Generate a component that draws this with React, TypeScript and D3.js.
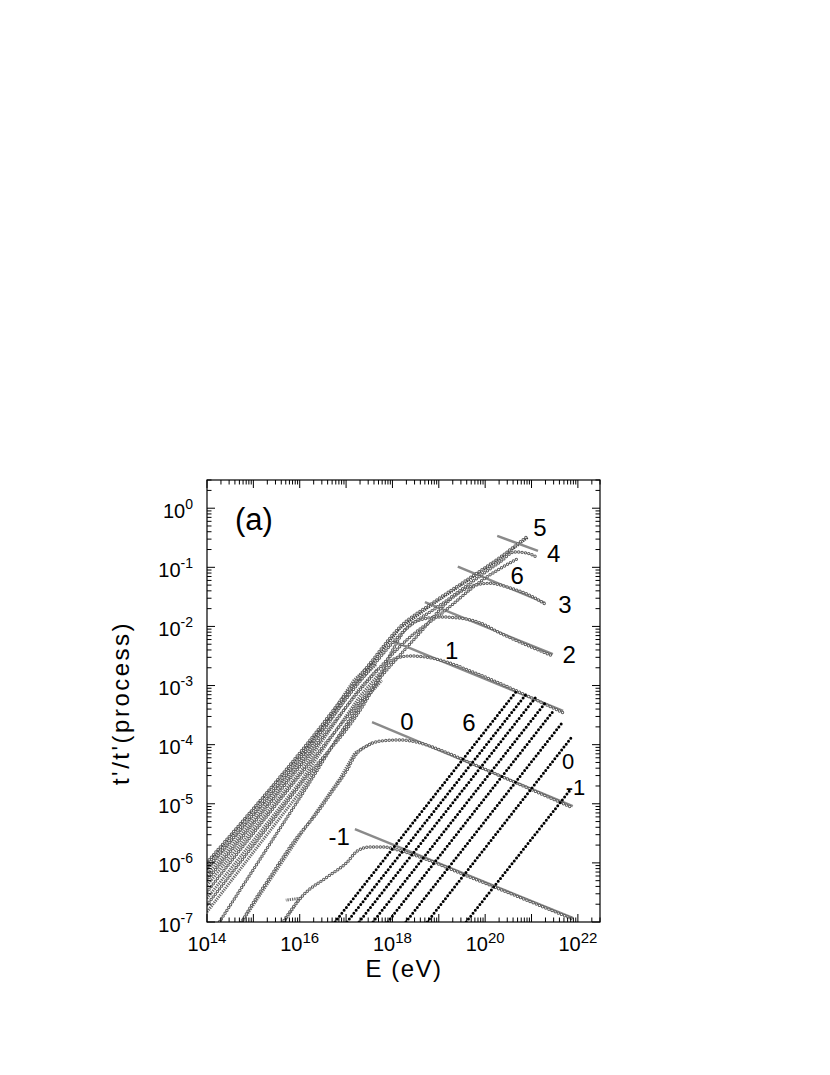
import React from 'react';
import * as d3 from 'd3';

type P = [number, number];

// every point is [log10 E (eV), log10 t'/t'(process)]
// order of curves: -1, 0, 1, 2, 3, 4, 5, 6
const circleCurves: P[][] = [
  [[15.47, -7.22], [15.64, -7.0], [16.07, -6.55], [16.59, -6.24], [17.02, -5.99], [17.24, -5.8], [17.52, -5.73], [17.8, -5.73], [18.06, -5.77], [18.59, -5.9], [19.67, -6.24], [21.89, -6.95]],
  [[14.6, -7.22], [14.75, -7.0], [15.36, -6.24], [16.01, -5.5], [16.29, -5.24], [16.72, -4.77], [17.02, -4.43], [17.19, -4.19], [17.45, -4.02], [17.73, -3.94], [18.16, -3.92], [18.59, -3.97], [19.03, -4.09], [19.89, -4.38], [21.89, -5.07]],
  [[14.11, -7.19], [16.01, -4.89], [17.3, -3.33], [17.67, -2.96], [17.88, -2.65], [18.1, -2.53], [18.38, -2.5], [18.81, -2.53], [19.24, -2.62], [19.67, -2.75], [21.68, -3.46]],
  [[14.0, -6.71], [16.01, -4.68], [17.56, -3.08], [17.95, -2.48], [18.27, -2.06], [18.59, -1.89], [19.03, -1.84], [19.46, -1.86], [19.89, -1.94], [20.32, -2.11], [21.46, -2.5]],
  [[14.0, -6.49], [16.01, -4.51], [17.62, -2.97], [18.59, -2.11], [19.24, -1.55], [19.67, -1.33], [20.1, -1.27], [20.54, -1.35], [21.03, -1.5], [21.29, -1.62]],
  [[14.0, -6.09], [16.01, -4.23], [17.52, -2.72], [18.27, -2.06], [19.03, -1.64], [19.78, -1.21], [20.32, -0.91], [20.64, -0.74], [20.9, -0.76], [21.12, -0.83]],
  [[14.0, -5.99], [16.01, -4.13], [17.52, -2.62], [18.16, -2.01], [18.87, -1.6], [19.61, -1.21], [20.32, -0.83], [20.92, -0.47]],
  [[14.0, -6.29], [16.01, -4.36], [17.56, -2.84], [18.38, -2.18], [19.09, -1.76], [19.95, -1.21], [20.73, -0.84]],
];

// triangle-marker curves; most end in a short bent "wing"
const triangleCurves: P[][] = [
  [[15.47, -7.22], [16.0, -6.6], [15.7, -6.63]],
  [[14.6, -7.22], [14.75, -7.0], [16.01, -5.53], [16.87, -4.57], [17.19, -4.14], [17.56, -3.97]],
  [[14.0, -6.83], [16.01, -4.8], [17.34, -3.3], [17.77, -2.91]],
  [[14.0, -6.6], [16.01, -4.63], [17.3, -3.18], [17.73, -2.79]],
  [[14.0, -6.38], [16.01, -4.46], [17.26, -3.08], [17.69, -2.71]],
  [[14.0, -6.12], [16.01, -4.26], [17.17, -2.91], [17.6, -2.59]],
  [[14.0, -6.02], [16.01, -4.16], [17.52, -2.65], [18.16, -2.03], [18.87, -1.62], [19.61, -1.23], [20.32, -0.85], [20.92, -0.49]],
  [[14.0, -6.21], [16.01, -4.33], [17.21, -2.98], [17.65, -2.64]],
];

const descendingLines: P[][] = [
  [[17.19, -5.43], [21.89, -6.93]],
  [[17.56, -3.62], [21.89, -5.04]],
  [[18.01, -2.25], [21.68, -3.43]],
  [[18.7, -1.59], [21.46, -2.47]],
  [[19.41, -0.99], [21.29, -1.6]],
  [[20.26, -0.47], [21.14, -0.72]],
];

const dottedLines: P[][] = [
  [[16.76, -7.0], [20.69, -3.08]],
  [[17.02, -7.0], [20.9, -3.13]],
  [[17.28, -7.0], [21.1, -3.19]],
  [[17.58, -7.0], [21.29, -3.3]],
  [[17.9, -7.0], [21.49, -3.41]],
  [[18.29, -7.0], [21.66, -3.63]],
  [[18.75, -7.0], [21.87, -3.87]],
  [[19.59, -7.0], [21.83, -4.77]],
];

const curveLabelText = ['5', '4', '6', '3', '2', '1', '0', '6', '0', '-1', '-1'];
const curveLabelPos: P[] = [
  [21.18, -0.32], [21.48, -0.76], [20.69, -1.13], [21.72, -1.62], [21.81, -2.48],
  [19.28, -2.4], [18.31, -3.6], [19.65, -3.63], [21.79, -4.27], [21.95, -4.71], [16.85, -5.55],
];
const curveLabelSize = [24, 24, 24, 24, 24, 24, 24, 24, 22, 22, 24];

const xTickExps = [14, 16, 18, 20, 22];
const yTickExps = [0, -1, -2, -3, -4, -5, -6, -7];

const FONT = '"Liberation Sans", Arial, Helvetica, sans-serif';

export default function App() {
  const left = 207, right = 600, top = 480, bottom = 922;
  const x = d3.scaleLog().domain([1e14, 3e22]).range([left, right]);
  const y = d3.scaleLog().domain([1e-7, 3]).range([bottom, top]);
  const fx = (p: P) => x(Math.pow(10, p[0]));
  const fy = (p: P) => y(Math.pow(10, p[1]));
  const smooth = d3.line<P>().x(fx).y(fy).curve(d3.curveMonotoneX);
  const straight = d3.line<P>().x(fx).y(fy);

  // log minor ticks 1..9 x 10^n inside the domain
  const xMinor: number[] = [];
  for (let e = 14; e <= 22; e++) for (let m = 1; m <= 9; m++) {
    const v = m * Math.pow(10, e);
    if (v <= 3e22) xMinor.push(v);
  }
  const yMinor: number[] = [];
  for (let e = -7; e <= 0; e++) for (let m = 1; m <= 9; m++) {
    const v = m * Math.pow(10, e);
    if (v <= 3) yMinor.push(v);
  }
  const isMajor = (v: number) => Math.abs(Math.log10(v) - Math.round(Math.log10(v))) < 1e-9;

  return (
    <svg width={830} height={1075} style={{ position: 'absolute', left: 0, top: 0, background: '#fff' }} fontFamily={FONT}>
      <defs>
        <clipPath id="plot"><rect x={left} y={top} width={right - left} height={bottom - top} /></clipPath>
      </defs>

      <g clipPath="url(#plot)">
        {triangleCurves.map((c, i) => (
          <path key={'t' + i} d={straight(c) || ''} fill="none" stroke={i === 6 ? '#3a3a3a' : '#6a6a6a'} strokeWidth={3} strokeDasharray="1.3 1" />
        ))}
        {descendingLines.map((c, i) => (
          <path key={'g' + i} d={straight(c) || ''} fill="none" stroke="#8a8a8a" strokeWidth={2.4} />
        ))}
        {circleCurves.map((c, i) => (
          <g key={'c' + i}>
            <path d={smooth(c) || ''} fill="none" stroke="#5e5e5e" strokeWidth={3.4} strokeLinecap="round" strokeDasharray="0 3.4" />
            <path d={smooth(c) || ''} fill="none" stroke="#fff" strokeWidth={1.4} strokeLinecap="round" strokeDasharray="0 3.4" />
          </g>
        ))}
        {dottedLines.map((c, i) => (
          <path key={'d' + i} d={straight(c) || ''} fill="none" stroke="#000" strokeWidth={3} strokeLinecap="round" strokeDasharray="0 3.7" />
        ))}
      </g>

      {/* frame and inward ticks on all four sides */}
      <rect x={left} y={top} width={right - left} height={bottom - top} fill="none" stroke="#000" strokeWidth={1.2} />
      {xMinor.map((v, i) => {
        const len = isMajor(v) ? 8 : 4.5;
        const xx = x(v);
        return (
          <g key={'xt' + i} stroke="#000" strokeWidth={1}>
            <line x1={xx} x2={xx} y1={bottom} y2={bottom - len} />
            <line x1={xx} x2={xx} y1={top} y2={top + len} />
          </g>
        );
      })}
      {yMinor.map((v, i) => {
        const len = isMajor(v) ? 8 : 4.5;
        const yy = y(v);
        return (
          <g key={'yt' + i} stroke="#000" strokeWidth={1}>
            <line x1={left} x2={left + len} y1={yy} y2={yy} />
            <line x1={right} x2={right - len} y1={yy} y2={yy} />
          </g>
        );
      })}

      {xTickExps.map((e) => (
        <text key={'xl' + e} x={x(Math.pow(10, e))} y={951} textAnchor="middle" fontSize={20}>
          10<tspan dy={-8} fontSize={15}>{e}</tspan>
        </text>
      ))}
      {yTickExps.map((e) => (
        <text key={'yl' + e} x={193} y={y(Math.pow(10, e)) + 9.5} textAnchor="end" fontSize={20}>
          10<tspan dy={-9} fontSize={14}>{e}</tspan>
        </text>
      ))}

      {curveLabelText.map((t, i) => (
        <text key={'cl' + i} x={fx(curveLabelPos[i])} y={fy(curveLabelPos[i])} dy="0.36em" textAnchor="middle" fontSize={curveLabelSize[i]}>{t}</text>
      ))}

      <text x={235} y={530} fontSize={31}>(a)</text>
      <text x={404} y={977} textAnchor="middle" fontSize={24} letterSpacing={1.5}>E (eV)</text>
      <text transform="translate(129,703) rotate(-90)" textAnchor="middle" fontSize={24} letterSpacing={2.5}>t'/t'(process)</text>
    </svg>
  );
}
